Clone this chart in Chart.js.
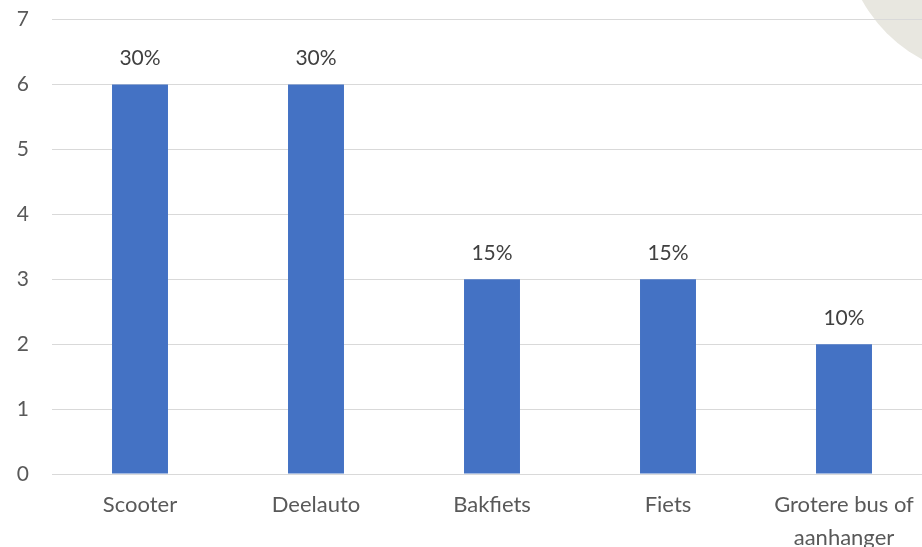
<!DOCTYPE html>
<html>
<head>
<meta charset="utf-8">
<script src="https://cdn.jsdelivr.net/npm/chart.js@4"></script>
<style>
  html, body { margin: 0; padding: 0; background: #fff; overflow: hidden; width: 922px; height: 547px; }
  #deco { position: absolute; left: 844px; top: -216px; width: 292px; height: 292px; border-radius: 50%; background: #E8E7E0; }
  #wrap { position: absolute; left: 0; top: -16px; width: 932px; height: 563px; }
</style>
</head>
<body>
<div id="deco"></div>
<div id="wrap"><canvas id="c"></canvas></div>
<script>
const categories = ['Scooter', 'Deelauto', 'Bakfiets', 'Fiets', ['Grotere bus of', 'aanhanger']];
const values = [6, 6, 3, 3, 2];
const valueLabels = ['30%', '30%', '15%', '15%', '10%'];
const yTicks = [0, 1, 2, 3, 4, 5, 6, 7];
const FONT = 'Lato, "Open Sans", sans-serif';

const labelPlugin = {
  id: 'barLabels',
  afterDatasetsDraw(chart) {
    const ctx = chart.ctx;
    const meta = chart.getDatasetMeta(0);
    ctx.save();
    ctx.font = '21px ' + FONT;
    ctx.fillStyle = '#404040';
    ctx.textAlign = 'center';
    ctx.textBaseline = 'middle';
    meta.data.forEach((bar, i) => {
      ctx.fillText(valueLabels[i], bar.x, bar.y - 26);
    });
    ctx.restore();
  }
};

new Chart(document.getElementById('c'), {
  type: 'bar',
  data: {
    labels: categories,
    datasets: [{
      data: values,
      backgroundColor: '#4472C4',
      barPercentage: 0.636,
      categoryPercentage: 0.5
    }]
  },
  options: {
    responsive: true,
    maintainAspectRatio: false,
    animation: false,
    layout: { padding: { top: -9, left: 0, right: 0, bottom: 0 } },
    plugins: { legend: { display: false }, tooltip: { enabled: false } },
    scales: {
      x: {
        grid: { display: false },
        border: { display: false },
        afterFit(axis) { axis.height = 73; },
        ticks: { color: '#595959', font: { size: 22, family: FONT, lineHeight: 1.48 }, padding: 7, maxRotation: 0, autoSkip: false }
      },
      y: {
        min: 0, max: 7,
        afterBuildTicks(axis) { axis.ticks = yTicks.map(v => ({ value: v })); },
        afterFit(axis) { axis.width = 52; },
        grid: { color: '#D9D9D9', lineWidth: 1, drawTicks: false },
        border: { display: false },
        ticks: { color: '#595959', font: { size: 21, family: FONT }, padding: 23 }
      }
    }
  },
  plugins: [labelPlugin]
});
</script>
</body>
</html>
